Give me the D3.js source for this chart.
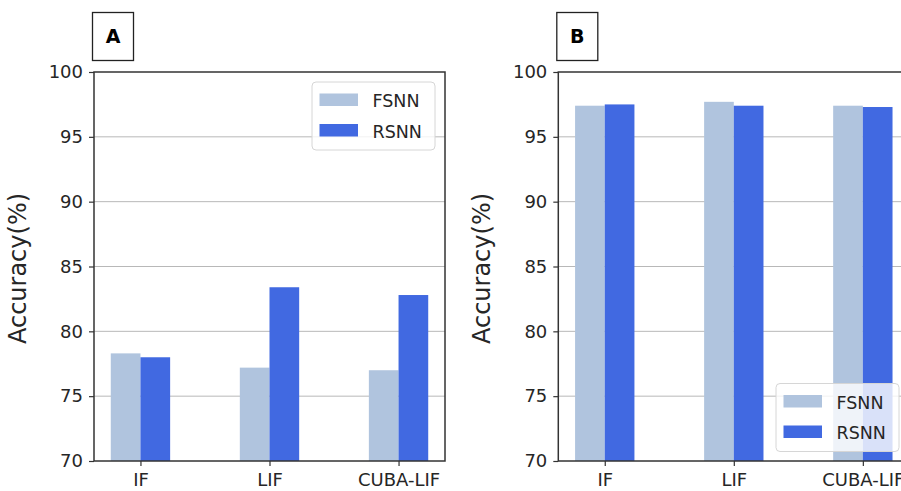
<!DOCTYPE html>
<html>
<head>
<meta charset="utf-8">
<script src="https://cdn.jsdelivr.net/npm/d3@7"></script>
<style>
  body { margin: 0; background: #fff; }
  text { font-family: "DejaVu Sans", sans-serif; fill: #262626; }
</style>
</head>
<body>
<svg id="chart" width="901" height="491"></svg>
<script>
// values
const categories = ["IF", "LIF", "CUBA-LIF"];
const seriesNames = ["FSNN", "RSNN"];
const seriesColors = ["#b0c4de", "#4169e1"];
const panelA_fsnn = [78.3, 77.2, 77.0];
const panelA_rsnn = [78.0, 83.4, 82.8];
const panelB_fsnn = [97.4, 97.7, 97.4];
const panelB_rsnn = [97.5, 97.4, 97.3];
const yTicks = [70, 75, 80, 85, 90, 95, 100];

const svg = d3.select("#chart");
svg.append("rect").attr("width", 901).attr("height", 491).attr("fill", "#fff");

const barW = 0.23;  // in category units

function drawPanel(left, letter, series, legendPos) {
    const top = 72, bottom = 461, width = 351;
    const x = d3.scaleLinear().domain([-0.36, 2.36]).range([left, left + width]);
    const y = d3.scaleLinear().domain([70, 100]).range([bottom, top]);
    const g = svg.append("g");

    // grid
    g.selectAll("line.grid")
        .data(yTicks.filter(t => t > 70 && t < 100))
        .join("line")
        .attr("x1", left).attr("x2", left + width)
        .attr("y1", d => y(d)).attr("y2", d => y(d))
        .attr("stroke", "#b8b8b8").attr("stroke-width", 1);

    // bars
    series.forEach((vals, s) => {
        g.selectAll(null)
            .data(vals)
            .join("rect")
            .attr("x", (d, i) => x(i + (s - 1) * barW))
            .attr("width", x(barW) - x(0))
            .attr("y", d => y(d))
            .attr("height", d => y(70) - y(d))
            .attr("fill", seriesColors[s]);
    });

    // axes
    const yAxis = g.append("g")
        .attr("transform", `translate(${left},0)`)
        .call(d3.axisLeft(y).tickValues(yTicks).tickSize(5).tickPadding(6));
    const xAxis = g.append("g")
        .attr("transform", `translate(0,${bottom})`)
        .call(d3.axisBottom(x).tickValues([0, 1, 2]).tickFormat(i => categories[i]).tickSize(5).tickPadding(7));
    [yAxis, xAxis].forEach(a => {
        a.select(".domain").remove();
        a.selectAll("line").attr("stroke", "#333").attr("stroke-width", 1.2);
        a.selectAll("text").attr("font-size", 18).attr("fill", "#262626");
    });

    // spines
    g.append("rect")
        .attr("x", left).attr("y", top)
        .attr("width", width).attr("height", bottom - top)
        .attr("fill", "none").attr("stroke", "#333").attr("stroke-width", 1.5);

    // y label
    g.append("text")
        .attr("transform", `translate(${left - 68},${(top + bottom) / 2 + 2}) rotate(-90)`)
        .attr("text-anchor", "middle")
        .attr("font-size", 24)
        .text("Accuracy(%)");

    // panel letter box
    g.append("rect")
        .attr("x", left - 1.5).attr("y", 12.5)
        .attr("width", 41).attr("height", 48)
        .attr("fill", "#fff").attr("stroke", "#222").attr("stroke-width", 1.3);
    g.append("text")
        .attr("x", left + 19).attr("y", 43)
        .attr("text-anchor", "middle")
        .attr("font-size", 19).attr("font-weight", "bold").style("fill", "#000")
        .text(letter);

    // legend
    const lg = g.append("g").attr("transform", `translate(${legendPos[0]},${legendPos[1]})`);
    lg.append("rect")
        .attr("width", 123).attr("height", 68).attr("rx", 4)
        .attr("fill", "#fff").attr("fill-opacity", 0.8)
        .attr("stroke", "#d6d6d6").attr("stroke-width", 1);
    seriesNames.forEach((name, s) => {
        lg.append("rect")
            .attr("x", 7.5).attr("y", 11.5 + s * 30.5)
            .attr("width", 38.5).attr("height", 12.5)
            .attr("fill", seriesColors[s]);
        lg.append("text")
            .attr("x", 60.5).attr("y", 25 + s * 30.5)
            .attr("font-size", 17.5)
            .text(name);
    });
}

drawPanel(94, "A", [panelA_fsnn, panelA_rsnn], [312, 82]);
drawPanel(558.3, "B", [panelB_fsnn, panelB_rsnn], [776, 383.5]);
</script>
</body>
</html>
